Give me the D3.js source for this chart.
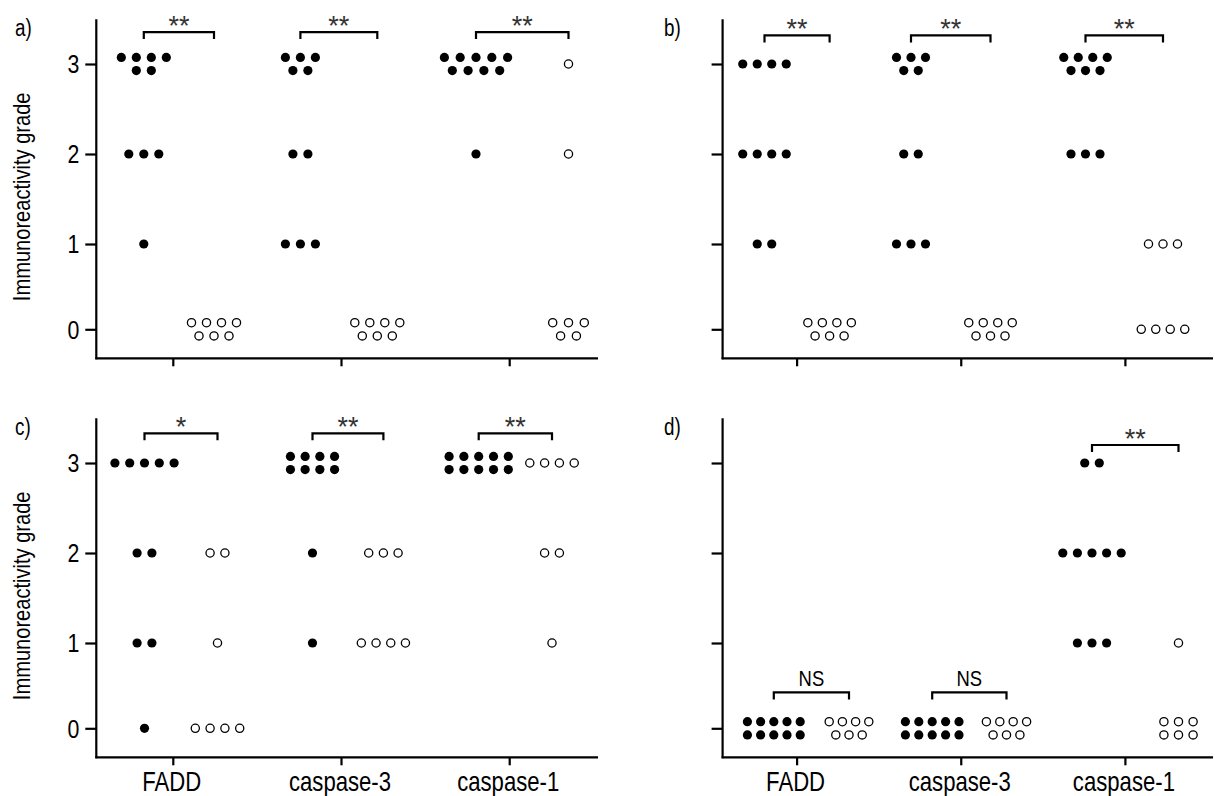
<!DOCTYPE html>
<html><head><meta charset="utf-8">
<script src="https://cdn.jsdelivr.net/npm/d3@7"></script>
<style>
html,body{margin:0;padding:0;background:#fff;}
svg{display:block;}
text{font-family:"Liberation Sans",Arial,sans-serif;}
</style></head>
<body>
<svg id="chart" width="1215" height="796"></svg>
<script>
// ---------- data ----------
const categories = ["FADD", "caspase-3", "caspase-1"];
const grades = [0, 1, 2, 3];
const panelLabels = ["a)", "b)", "c)", "d)"];
// counts of samples per grade [g0, g1, g2, g3] for each category
const filledA = [[0,1,3,6],[0,3,2,5],[0,0,1,9]];
const openA   = [[7,0,0,0],[7,0,0,0],[5,0,1,1]];
const filledB = [[0,2,4,4],[0,3,2,5],[0,0,3,7]];
const openB   = [[7,0,0,0],[7,0,0,0],[4,3,0,0]];
const filledC = [[1,2,2,5],[0,1,1,8],[0,0,0,10]];
const openC   = [[4,1,2,0],[0,4,3,0],[0,1,2,4]];
const filledD = [[10,0,0,0],[10,0,0,0],[0,3,5,2]];
const openD   = [[7,0,0,0],[7,0,0,0],[6,1,0,0]];
const sigA = ["**","**","**"];
const sigB = ["**","**","**"];
const sigC = ["*","**","**"];
const sigD = ["NS","NS","**"];
const yTitle = "Immunoreactivity grade";

// ---------- layout (positions only) ----------
const panels = [
  {label: panelLabels[0], col:0, row:0, filled:filledA, open:openA, sig:sigA,
   fOff:[-29,-40.6,-33.2], oOff:[41.2,36.3,59.3], gap:[15,15,15.8],
   rowF:[[0,1,3,4],[0,3,2,3],[0,0,1,5]], rowO:[[4,0,0,0],[4,0,0,0],[3,0,1,1]],
   bracket:[3.355,3.355,3.355]},
  {label: panelLabels[1], col:1, row:0, filled:filledB, open:openB, sig:sigB,
   fOff:[-32.1,-49.75,-39.4], oOff:[33,29.75,38.1], gap:[14.5,14.5,14.5],
   rowF:[[0,2,4,4],[0,3,2,3],[0,0,3,4]], rowO:[[4,0,0,0],[4,0,0,0],[4,3,0,0]],
   bracket:[3.318,3.318,3.318]},
  {label: panelLabels[2], col:0, row:1, filled:filledC, open:openC, sig:sigC,
   fOff:[-28.3,-28.5,-30.5], oOff:[44.7,42.4,42.8], gap:[14.8,14.7,14.8],
   rowF:[[1,2,2,5],[0,1,1,4],[0,0,0,5]], rowO:[[4,1,2,0],[0,4,3,0],[0,1,2,4]],
   bracket:[3.33,3.33,3.33]},
  {label: panelLabels[3], col:1, row:1, filled:filledD, open:openD, sig:sigD,
   fOff:[-22.8,-28.55,-32.9], oOff:[52.4,45.75,53.6], gap:[13.2,13.4,14.6],
   rowF:[[5,0,0,0],[5,0,0,0],[0,3,5,2]], rowO:[[4,0,0,0],[4,0,0,0],[3,1,0,0]],
   bracket:[0.42,0.42,3.2]}
];
const colGeom = [
  {axisX: 96.3, endX: 598, xRange:[172.8, 509.2], labelX: 15},
  {axisX: 722.6, endX: 1213, xRange:[796.6, 1124.9], labelX: 664}
];
const rowGeom = [{baseY: 358.3}, {baseY: 757.3}];
const gradeOffsets = [-29, -114.3, -204.3, -294.3];
const R = 4.6, ROWDY = 6.6, SX = 0.82;

const svg = d3.select("#chart");

// condensed text: Liberation Sans squeezed horizontally (Arial Narrow look)
function narrow(parent, x, y, str, size, anchor, rotate) {
  return parent.append("text")
    .attr("transform", `translate(${x},${y})${rotate ? " rotate(" + rotate + ")" : ""} scale(${SX},1)`)
    .attr("font-size", size).attr("text-anchor", anchor || "start")
    .attr("fill", "#000").text(str);
}

panels.forEach(p => {
  const cg = colGeom[p.col], rg = rowGeom[p.row];
  const g = svg.append("g");
  const x = d3.scalePoint().domain(categories).range(cg.xRange);
  const y = d3.scaleLinear().domain(grades).range(gradeOffsets.map(o => rg.baseY + o));

  // axes lines
  g.append("line").attr("x1", cg.axisX).attr("x2", cg.axisX)
    .attr("y1", rg.baseY - 339).attr("y2", rg.baseY + 1)
    .attr("stroke", "#000").attr("stroke-width", 2.2);
  g.append("line").attr("x1", cg.axisX - 1).attr("x2", cg.endX)
    .attr("y1", rg.baseY).attr("y2", rg.baseY)
    .attr("stroke", "#000").attr("stroke-width", 2.2);

  // y axis ticks
  const yAxis = d3.axisLeft(y).tickValues(grades).tickSize(11).tickSizeOuter(0).tickFormat(() => "");
  const ya = g.append("g").attr("transform", `translate(${cg.axisX},0)`).call(yAxis);
  ya.select(".domain").remove();
  ya.selectAll(".tick line").attr("stroke", "#000").attr("stroke-width", 2.2);
  ya.selectAll(".tick text").remove();
  if (p.col === 0) {
    grades.forEach(v => narrow(g, cg.axisX - 17, y(v) + 9.3, d3.format("d")(v), 26, "end"));
  }

  // x axis ticks
  const xAxis = d3.axisBottom(x).tickSize(8).tickSizeOuter(0).tickFormat(() => "");
  const xa = g.append("g").attr("transform", `translate(0,${rg.baseY})`).call(xAxis);
  xa.select(".domain").remove();
  xa.selectAll(".tick line").attr("stroke", "#000").attr("stroke-width", 2.2);
  xa.selectAll(".tick text").remove();
  if (p.row === 1) {
    categories.forEach(c => narrow(g, x(c) - 1, rg.baseY + 34, c, 27, "middle"));
  }

  // y title
  if (p.col === 0) narrow(g, 30, rg.baseY - 161.5, yTitle, 24.5, "middle", -90);
  // panel label
  narrow(g, cg.labelX, rg.baseY - 322.5, p.label, 23, "start");

  // dots
  const dots = [];
  categories.forEach((c, ci) => {
    [["filled", p.filled, p.rowF, p.fOff], ["open", p.open, p.rowO, p.oOff]].forEach(([kind, counts, rows, offs]) => {
      const cx = x(c) + offs[ci];
      counts[ci].forEach((n, gi) => {
        if (!n) return;
        const first = rows[ci][gi];
        const rowsArr = first >= n ? [n] : [first, n - first];
        rowsArr.forEach((k, ri) => {
          const dy = rowsArr.length === 1 ? 0 : (ri === 0 ? -ROWDY : ROWDY);
          for (let j = 0; j < k; j++) {
            dots.push({kind, x: cx + (j - (k - 1) / 2) * p.gap[ci], y: y(grades[gi]) + dy});
          }
        });
      });
    });
  });
  g.selectAll("circle.dot").data(dots).join("circle")
    .attr("class", "dot")
    .attr("cx", d => d.x).attr("cy", d => d.y)
    .attr("r", d => d.kind === "filled" ? R : R - 0.5)
    .attr("fill", d => d.kind === "filled" ? "#000" : "#fff")
    .attr("stroke", "#000").attr("stroke-width", d => d.kind === "filled" ? 0 : 1.3);

  // significance brackets
  categories.forEach((c, ci) => {
    const x1 = x(c) + p.fOff[ci], x2 = x(c) + p.oOff[ci];
    const by = y(p.bracket[ci]);
    g.append("path")
      .attr("d", d3.line()([[x1, by + 7], [x1, by], [x2, by], [x2, by + 7]]))
      .attr("fill", "none").attr("stroke", "#000").attr("stroke-width", 2.2);
    const s = p.sig[ci];
    if (s === "NS") {
      narrow(g, (x1 + x2) / 2, by - 6.5, s, 22.5, "middle");
    } else {
      g.append("text").attr("font-family", "'Liberation Serif','Times New Roman',serif")
        .attr("font-size", 27).attr("fill", "#333")
        .attr("text-anchor", "middle").attr("x", (x1 + x2) / 2).attr("y", by + 3).text(s);
    }
  });
});
</script>
</body></html>
